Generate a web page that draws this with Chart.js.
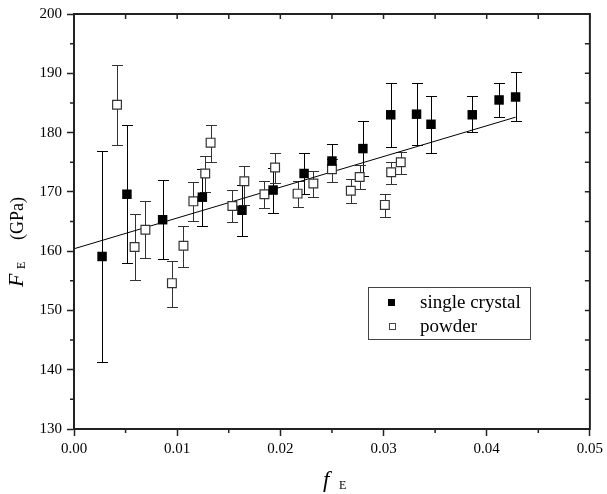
<!DOCTYPE html>
<html>
<head>
<meta charset="utf-8">
<script src="https://cdn.jsdelivr.net/npm/chart.js@4/dist/chart.umd.min.js"></script>
<style>
  html, body { margin: 0; padding: 0; background: #fff; }
  #wrap { width: 607px; height: 494px; }
</style>
</head>
<body>
<div id="wrap"><canvas id="chart" width="607" height="494"></canvas></div>
<script>
// single crystal (filled squares)
const crystalX = [0.00272, 0.00513, 0.00859, 0.01244, 0.01628, 0.0193, 0.0223, 0.0250, 0.0280, 0.0307, 0.0332, 0.0346, 0.0386, 0.0412, 0.0428];
const crystalY = [159.1, 169.6, 165.3, 169.1, 166.9, 170.3, 173.1, 175.2, 177.3, 183.0, 183.1, 181.4, 183.0, 185.5, 186.0];
const crystalHi = [176.9, 181.2, 172.0, 173.8, 171.2, 174.0, 176.5, 178.1, 182.0, 188.4, 188.3, 186.1, 186.1, 188.3, 190.2];
const crystalLo = [141.3, 158.0, 158.7, 164.2, 162.5, 166.4, 169.7, 171.7, 172.6, 177.6, 177.9, 176.6, 180.1, 182.7, 181.9];

// powder (open squares)
const powderX = [0.00417, 0.00587, 0.00692, 0.00949, 0.01061, 0.01157, 0.01272, 0.01324, 0.01535, 0.01651, 0.01846, 0.01949, 0.02167, 0.0232, 0.0250, 0.02683, 0.02769, 0.03013, 0.03074, 0.03167];
const powderY = [184.7, 160.7, 163.6, 154.6, 160.9, 168.4, 173.1, 178.3, 167.6, 171.8, 169.6, 174.1, 169.7, 171.4, 173.8, 170.2, 172.5, 167.8, 173.3, 175.0];
const powderHi = [191.4, 166.2, 168.4, 158.4, 164.3, 171.7, 176.1, 181.3, 170.3, 174.4, 171.9, 176.6, 171.8, 173.5, 175.6, 172.1, 174.5, 169.6, 175.1, 176.7];
const powderLo = [177.9, 155.1, 158.8, 150.5, 157.3, 165.1, 170.0, 175.0, 164.9, 167.8, 167.2, 171.5, 167.5, 169.2, 171.7, 168.1, 170.5, 165.7, 171.3, 173.0];

// linear fit
const fitX = [0, 0.0428];
const fitY = [160.4, 182.6];

const xTicks = [0, 0.01, 0.02, 0.03, 0.04, 0.05];
const yTicks = [130, 140, 150, 160, 170, 180, 190, 200];

const SERIF = "'Liberation Serif', 'DejaVu Serif', serif";
const AXIS_COLOR = "#222";

const toPoints = (xs, ys) => xs.map((x, i) => ({ x: x, y: ys[i] }));

// error bars with caps
const errorBars = {
  id: "errorBars",
  beforeDatasetsDraw(chart) {
    const { ctx, scales: { x, y } } = chart;
    const sets = [
      [crystalX, crystalLo, crystalHi, "#000"],
      [powderX, powderLo, powderHi, "#333"],
    ];
    ctx.save();
    ctx.lineWidth = 1;
    sets.forEach(([xs, lo, hi, color]) => {
      ctx.strokeStyle = color;
      xs.forEach((v, i) => {
        const px = Math.round(x.getPixelForValue(v)) + 0.5;
        const top = Math.round(y.getPixelForValue(hi[i])) + 0.5;
        const bot = Math.round(y.getPixelForValue(lo[i])) + 0.5;
        ctx.beginPath();
        ctx.moveTo(px, top);
        ctx.lineTo(px, bot);
        ctx.moveTo(px - 5.5, top);
        ctx.lineTo(px + 5.5, top);
        ctx.moveTo(px - 5.5, bot);
        ctx.lineTo(px + 5.5, bot);
        ctx.stroke();
      });
    });
    ctx.restore();
  },
};

// frame, minor/inner ticks, axis titles and legend box
const frame = {
  id: "frame",
  afterDraw(chart) {
    const { ctx, chartArea: { left, top, right, bottom }, scales: { x, y } } = chart;
    ctx.save();
    ctx.strokeStyle = AXIS_COLOR;
    ctx.lineWidth = 2;
    ctx.strokeRect(left, top, right - left, bottom - top);

    ctx.lineWidth = 1.5;
    ctx.beginPath();
    for (let v = 0; v <= 0.0501; v += 0.005) {
      const px = x.getPixelForValue(v);
      ctx.moveTo(px, top);
      ctx.lineTo(px, top + 5);
      const major = Math.abs(v / 0.01 - Math.round(v / 0.01)) < 1e-6;
      if (!major) {
        ctx.moveTo(px, bottom);
        ctx.lineTo(px, bottom + 4);
      }
    }
    for (let v = 130; v <= 200; v += 5) {
      const py = y.getPixelForValue(v);
      ctx.moveTo(right, py);
      ctx.lineTo(right - 5, py);
      if (v % 10 !== 0) {
        ctx.moveTo(left, py);
        ctx.lineTo(left - 4, py);
      }
    }
    ctx.stroke();

    // y title: F_E (GPa), reads bottom to top
    ctx.fillStyle = "#000";
    ctx.translate(23, 287);
    ctx.rotate(-Math.PI / 2);
    ctx.textBaseline = "alphabetic";
    ctx.textAlign = "left";
    ctx.font = `italic 22px ${SERIF}`;
    ctx.fillText("F", 0, 0);
    ctx.font = `12px ${SERIF}`;
    ctx.fillText("E", 18, 2);
    ctx.font = `18px ${SERIF}`;
    ctx.fillText("(GPa)", 47, 0);
    ctx.setTransform(1, 0, 0, 1, 0, 0);

    // x title: f_E
    ctx.font = `italic 23px ${SERIF}`;
    ctx.fillText("f", 323, 487);
    ctx.font = `12px ${SERIF}`;
    ctx.fillText("E", 339, 489);

    // legend
    const lx = 368.5, ly = 287.5, lw = 162, lh = 52;
    ctx.strokeStyle = "#444";
    ctx.lineWidth = 1;
    ctx.strokeRect(lx, ly, lw, lh);
    ctx.font = `19px ${SERIF}`;
    ctx.textBaseline = "middle";
    ctx.fillStyle = "#000";
    ctx.fillRect(388, 299, 7, 7);
    ctx.fillText(chart.data.datasets[1].label, 420, 303);
    ctx.strokeStyle = "#444";
    ctx.strokeRect(389.5, 323.5, 6, 6);
    ctx.fillText(chart.data.datasets[2].label, 420, 327);
    ctx.restore();
  },
};

new Chart(document.getElementById("chart"), {
  type: "scatter",
  data: {
    datasets: [
      {
        label: "fit",
        type: "line",
        data: toPoints(fitX, fitY),
        borderColor: "#000",
        borderWidth: 1,
        pointRadius: 0,
        fill: false,
        order: 3,
      },
      {
        label: "single crystal",
        data: toPoints(crystalX, crystalY),
        pointStyle: "rect",
        pointRadius: 6.7,
        backgroundColor: "#000",
        borderColor: "#000",
        borderWidth: 0,
        order: 1,
      },
      {
        label: "powder",
        data: toPoints(powderX, powderY),
        pointStyle: "rect",
        pointRadius: 6.2,
        backgroundColor: "#fff",
        borderColor: "#333",
        borderWidth: 1.2,
        order: 2,
      },
    ],
  },
  options: {
    responsive: false,
    animation: false,
    layout: { padding: { top: 11, right: 12, left: 0, bottom: 0 } },
    plugins: {
      legend: { display: false },
      tooltip: { enabled: false },
    },
    scales: {
      x: {
        type: "linear",
        min: 0,
        max: 0.05,
        afterBuildTicks(scale) {
          scale.ticks = xTicks.map((v) => ({ value: v }));
        },
        afterFit(scale) {
          scale.height = 65;
        },
        grid: {
          display: true,
          drawOnChartArea: false,
          tickLength: 7,
          tickWidth: 1.5,
          tickColor: AXIS_COLOR,
        },
        border: { display: true, color: AXIS_COLOR, width: 2 },
        ticks: {
          padding: 4,
          color: "#000",
          maxRotation: 0,
          font: { family: SERIF, size: 15 },
          callback: (value) => value.toFixed(2),
        },
      },
      y: {
        type: "linear",
        min: 130,
        max: 200,
        afterBuildTicks(scale) {
          scale.ticks = yTicks.map((v) => ({ value: v }));
        },
        afterFit(scale) {
          scale.width = 74;
        },
        grid: {
          display: true,
          drawOnChartArea: false,
          tickLength: 7,
          tickWidth: 1.5,
          tickColor: AXIS_COLOR,
        },
        border: { display: true, color: AXIS_COLOR, width: 2 },
        ticks: {
          padding: 5,
          color: "#000",
          font: { family: SERIF, size: 15 },
        },
      },
    },
  },
  plugins: [errorBars, frame],
});
</script>
</body>
</html>
